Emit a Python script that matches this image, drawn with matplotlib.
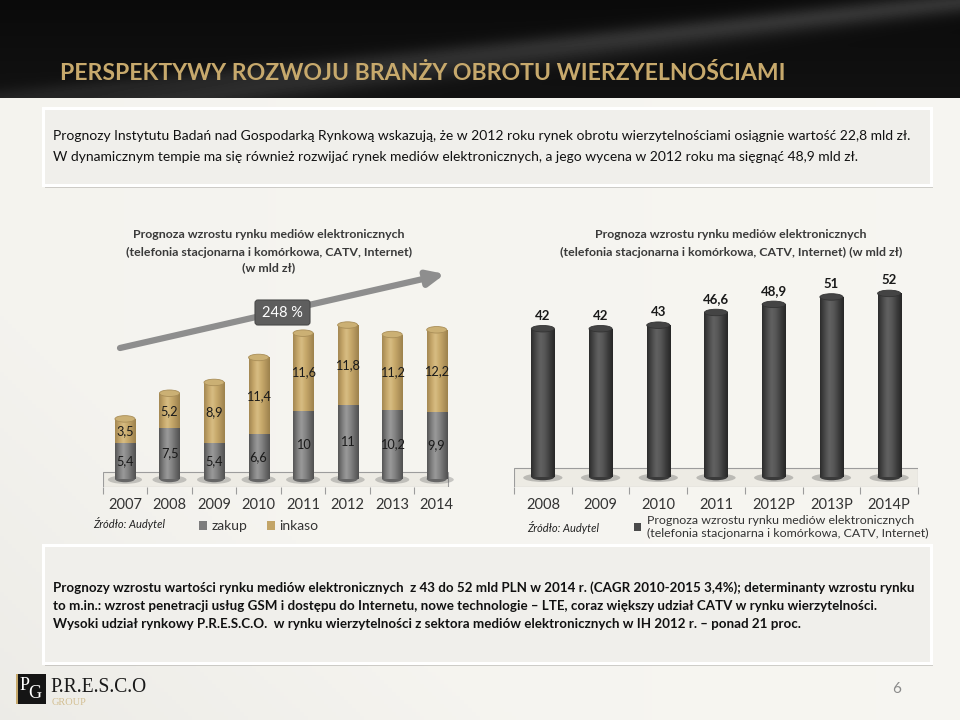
import numpy as np
import matplotlib
matplotlib.use('Agg')
import matplotlib.pyplot as plt
from matplotlib.patches import Rectangle, Ellipse, FancyBboxPatch
from matplotlib.colors import LinearSegmentedColormap

plt.rcParams['font.family'] = ['Lato', 'DejaVu Sans']

# ---------------- data ----------------
years_left = ['2007', '2008', '2009', '2010', '2011', '2012', '2013', '2014']
zakup = [5.4, 7.5, 5.4, 6.6, 10, 11, 10.2, 9.9]
inkaso = [3.5, 5.2, 8.9, 11.4, 11.6, 11.8, 11.2, 12.2]

years_right = ['2008', '2009', '2010', '2011', '2012P', '2013P', '2014P']
media = [42, 42, 43, 46.6, 48.9, 51, 52]

title = 'PERSPEKTYWY ROZWOJU BRANŻY OBROTU WIERZYELNOŚCIAMI'
top_lines = [
    'Prognozy Instytutu Badań nad Gospodarką Rynkową wskazują, że w 2012 roku rynek obrotu wierzytelnościami osiągnie wartość 22,8 mld zł.',
    'W dynamicznym tempie ma się również rozwijać rynek mediów elektronicznych, a jego wycena w 2012 roku ma sięgnąć 48,9 mld zł.',
]
bottom_lines = [
    'Prognozy wzrostu wartości rynku mediów elektronicznych  z 43 do 52 mld PLN w 2014 r. (CAGR 2010-2015 3,4%); determinanty wzrostu rynku',
    'to m.in.: wzrost penetracji usług GSM i dostępu do Internetu, nowe technologie – LTE, coraz większy udział CATV w rynku wierzytelności.',
    'Wysoki udział rynkowy P.R.E.S.C.O.  w rynku wierzytelności z sektora mediów elektronicznych w IH 2012 r. – ponad 21 proc.',
]
left_title = ['Prognoza wzrostu rynku mediów elektronicznych',
              '(telefonia stacjonarna i komórkowa, CATV, Internet)',
              '(w mld zł)']
right_title = ['Prognoza wzrostu rynku mediów elektronicznych',
               '(telefonia stacjonarna i komórkowa, CATV, Internet) (w mld zł)']
right_legend = 'Prognoza wzrostu rynku mediów elektronicznych\n(telefonia stacjonarna i komórkowa, CATV, Internet)'
growth_label = '248 %'
source = 'Źródło: Audytel'


def fmt(vals):
    return [f'{v:g}'.replace('.', ',') for v in vals]


fig = plt.figure(figsize=(9.6, 7.2), dpi=100)
renderer = fig.canvas.get_renderer()

bg = fig.add_axes([0, 0, 1, 1])
bg.set_xlim(0, 960)
bg.set_ylim(720, 0)
bg.axis('off')


def fit(x, y, s, width, size=10, **kw):
    t = bg.text(x, y, s, fontsize=size, **kw)
    w = t.get_window_extent(renderer).width
    t.set_fontsize(size * width / w)
    return t


# background
yy, xx = np.mgrid[0:720:4, 0:960:4].astype(float)
shade = np.clip(1 - (xx / 520 + (720 - yy) / 420), 0, 1)
base = 0.958 - 0.03 * shade + 0.01 * (xx / 960)
rgb = np.dstack([base, base - 0.004, base - 0.022])
bg.imshow(np.clip(rgb, 0, 1), extent=(0, 960, 720, 0), aspect='auto', zorder=0)

# header
hy, hx = np.mgrid[0:98:1, 0:960:2].astype(float)
line1 = 98 - (hx - 180) * 0.125
line2 = 60 - (hx - 380) * 0.10
hv = 0.04 + 0.10 * np.exp(-((hy - line1) / 14) ** 2) + 0.06 * np.exp(-((hy - line2) / 10) ** 2)
hv += 0.03 * (hy / 98)
bg.imshow(hv, extent=(0, 960, 98, 0), cmap='gray', vmin=0, vmax=1, aspect='auto', zorder=1)
fit(60, 74, title, 725, size=20, color='#C7A96C', fontweight='bold', va='center', zorder=3)

# text boxes
for (y0, h) in [(108, 77), (545, 118)]:
    bg.add_patch(Rectangle((45, y0 + 3), 888, h, fc='#9c9a95', alpha=0.45, zorder=1, lw=0))
    bg.add_patch(Rectangle((43, y0), 888, h, fc='#F0EFEB', ec='white', lw=2.2, zorder=2))

fit(53, 136, top_lines[0], 859, size=10, color='#111111', va='center', zorder=3)
bg.text(53, 157, top_lines[1], color='#111111', va='center', zorder=3,
        fontsize=bg.texts[-1].get_fontsize())
fs_b = None
for i, (ln, yb) in enumerate(zip(bottom_lines, [588, 606, 624])):
    if i == 0:
        tt = fit(53, yb, ln, 859, size=10, color='#111111', va='center', fontweight='bold', zorder=3)
        fs_b = tt.get_fontsize()
    else:
        bg.text(53, yb, ln, fontsize=fs_b, color='#111111', va='center', fontweight='bold', zorder=3)

# chart titles
for s, y in zip(left_title, [235, 252, 268]):
    bg.text(269, y, s, ha='center', va='center', fontsize=8.9, fontweight='bold', color='#3a3a3a', zorder=3)
for s, y in zip(right_title, [235, 252]):
    bg.text(731, y, s, ha='center', va='center', fontsize=8.9, fontweight='bold', color='#3a3a3a', zorder=3)

# arrow & growth box
bg.annotate('', xy=(445, 274), xytext=(120, 348),
            arrowprops=dict(arrowstyle='-|>,head_width=0.45,head_length=1.0', lw=4.5,
                            color='#8e8e8e', shrinkA=0, shrinkB=0), zorder=3)
bg.add_patch(FancyBboxPatch((255, 300), 55, 25, boxstyle='round,pad=0,rounding_size=3',
                            fc='#5e5e5e', ec='#4a4a4a', lw=0.8, zorder=4))
bg.text(282.5, 313, growth_label, ha='center', va='center', color='white', fontsize=10.5, zorder=5)

bg.text(93, 524, source, fontsize=8, style='italic', color='#222222', va='center', zorder=3)
bg.text(527, 528, source, fontsize=8, style='italic', color='#222222', va='center', zorder=3)

# logo
bg.add_patch(Rectangle((16, 674), 30, 30, fc='#151515', ec='none', zorder=3))
bg.add_patch(Rectangle((16, 674), 1.5, 30, fc='#C7A96C', ec='none', zorder=4))
bg.text(25, 685, 'P', family='Liberation Serif', color='white', fontsize=13, ha='center', va='center', zorder=5)
bg.text(35, 694, 'G', family='Liberation Serif', color='white', fontsize=13, ha='center', va='center', zorder=5)
fit(50, 692, 'P.R.E.S.C.O', 97, size=16, family='Liberation Serif', color='#1a1a1a', va='baseline', zorder=3)
bg.text(52, 705, 'GROUP', family='Liberation Serif', color='#D3BF92', fontsize=7.5, va='baseline', zorder=3)
bg.text(897, 689, '6', color='#8a8a8a', fontsize=11, ha='center', va='center', zorder=3)


def cylinders(ax, container, cmap):
    for p in container.patches:
        x0, y0 = p.get_x(), p.get_y()
        w, h = p.get_width(), p.get_height()
        grad = np.linspace(0, 1, 64).reshape(1, -1)
        im = ax.imshow(grad, extent=(x0, x0 + w, y0, y0 + h), cmap=cmap, aspect='auto',
                       zorder=p.get_zorder() + 0.1, interpolation='bicubic')
        im.set_clip_path(p)


grey_cm = LinearSegmentedColormap.from_list('g', ['#555555', '#7d7d7d', '#9a9a9a', '#848484', '#6a6a6a', '#505050'])
gold_cm = LinearSegmentedColormap.from_list('o', ['#a38752', '#c3a568', '#d8bd83', '#c8aa6c', '#b3965d', '#9c814c'])
dark_cm = LinearSegmentedColormap.from_list('d', ['#2c2c2c', '#4a4a4a', '#626262', '#555555', '#3c3c3c', '#262626'])

# ---------------- left chart ----------------
ax1 = fig.add_axes([102.7 / 960, (720 - 487) / 720, 356.3 / 960, 167 / 720])
ax1.patch.set_alpha(0)
x1 = np.arange(len(years_left))
w1 = 0.45
b_z = ax1.bar(x1, zakup, width=w1, color='#7d7d7d', zorder=3, label='zakup')
b_i = ax1.bar(x1, inkaso, bottom=zakup, width=w1, color='#c3a568', zorder=3, label='inkaso')
cylinders(ax1, b_z, grey_cm)
cylinders(ax1, b_i, gold_cm)
ylo1, yhi1 = -1.19, 23.55
ppu1 = 167 / (yhi1 - ylo1)
eh1 = 6.5 / ppu1
tops1 = np.array(zakup) + np.array(inkaso)
for xi, t in zip(x1, tops1):
    ax1.add_patch(Ellipse((xi, t), w1, eh1, fc='#cbb074', ec='#a98e58', lw=0.6, zorder=5))
    ax1.add_patch(Ellipse((xi, 0), w1, eh1, fc='#666666', ec='none', zorder=2.9))
    ax1.add_patch(Ellipse((xi, -0.1), w1 * 1.7, eh1 * 1.3, fc='#5a5a5a', alpha=0.3, ec='none', zorder=2.5))
ax1.add_patch(Rectangle((-0.5, ylo1), 7.75, 7 / ppu1 - ylo1, fc='#EDEBE4', ec='#9c9c9c', lw=0.8, zorder=1))
ax1.bar_label(b_z, labels=fmt(zakup), label_type='center', fontsize=9.2, color='#1a1a1a', zorder=6)
ax1.bar_label(b_i, labels=fmt(inkaso), label_type='center', fontsize=9.2, color='#1a1a1a', zorder=6)
ax1.set_xlim(-0.5, 7.5)
ax1.set_ylim(ylo1, yhi1)
ax1.set_xticks(x1)
ax1.set_xticklabels(years_left, fontsize=10.5, color='#333333')
ax1.set_xticks(np.arange(-0.5, 7.5, 1), minor=True)
ax1.tick_params(axis='x', which='major', length=0, pad=8)
ax1.tick_params(axis='x', which='minor', length=5, color='#9c9c9c', width=0.8)
ax1.set_yticks([])
for s in ax1.spines.values():
    s.set_visible(False)
ax1.legend(handles=[b_z, b_i], labels=['zakup', 'inkaso'], ncol=2, loc='center left',
           bbox_to_anchor=(199 / 960, 1 - 526 / 720), bbox_transform=fig.transFigure,
           frameon=False, fontsize=10, handlelength=0.6, handleheight=0.6,
           handletextpad=0.3, columnspacing=1.4, borderpad=0, borderaxespad=0,
           labelcolor='#333333')

# ---------------- right chart ----------------
ax2 = fig.add_axes([514 / 960, (720 - 487) / 720, 404 / 960, 207 / 720])
ax2.patch.set_alpha(0)
x2 = np.arange(len(years_right))
w2 = 0.40
b_m = ax2.bar(x2, media, width=w2, color='#4a4a4a', zorder=3)
cylinders(ax2, b_m, dark_cm)
ylo2, yhi2 = -2.83, 55.8
ppu2 = 207 / (yhi2 - ylo2)
eh2 = 6.5 / ppu2
for xi, t in zip(x2, media):
    ax2.add_patch(Ellipse((xi, t), w2, eh2, fc='#444444', ec='#333333', lw=0.6, zorder=5))
    ax2.add_patch(Ellipse((xi, 0), w2, eh2, fc='#3a3a3a', ec='none', zorder=2.9))
    ax2.add_patch(Ellipse((xi, -0.2), w2 * 1.7, eh2 * 1.3, fc='#4a4a4a', alpha=0.3, ec='none', zorder=2.5))
ax2.add_patch(Rectangle((-0.5, ylo2), 7.0, 9 / ppu2 - ylo2, fc='#EDEBE4', ec='#9c9c9c', lw=0.8, zorder=1))
ax2.bar_label(b_m, labels=fmt(media), padding=5, fontsize=9.5, fontweight='bold', color='#1a1a1a', zorder=6)
ax2.set_xlim(-0.5, 6.5)
ax2.set_ylim(ylo2, yhi2)
ax2.set_xticks(x2)
ax2.set_xticklabels(years_right, fontsize=10.5, color='#333333')
ax2.set_xticks(np.arange(-0.5, 7, 1), minor=True)
ax2.tick_params(axis='x', which='major', length=0, pad=8)
ax2.tick_params(axis='x', which='minor', length=5, color='#9c9c9c', width=0.8)
ax2.set_yticks([])
for s in ax2.spines.values():
    s.set_visible(False)
ax2.legend(handles=[b_m], labels=[right_legend], loc='center left',
           bbox_to_anchor=(634 / 960, 1 - 527 / 720), bbox_transform=fig.transFigure,
           frameon=False, fontsize=8.9, handlelength=0.6, handleheight=0.6,
           handletextpad=0.45, borderpad=0, borderaxespad=0, labelcolor='#333333')

fig.savefig('out.png', dpi=100)
